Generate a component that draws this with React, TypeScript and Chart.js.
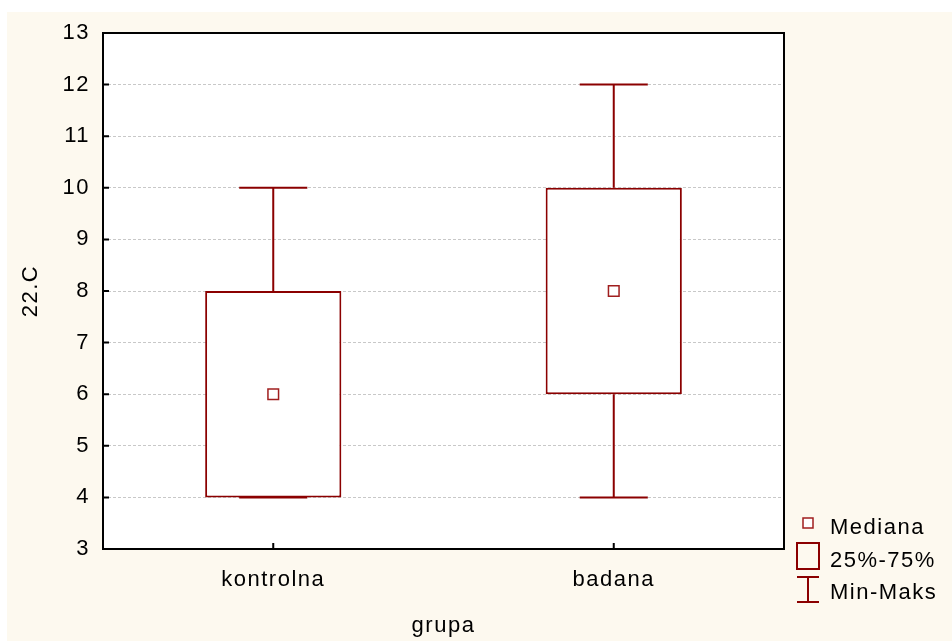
import React, { useEffect, useRef } from "react";
import { Chart, registerables } from "chart.js";

Chart.register(...registerables);

// ---- data ----
const categories = ["kontrolna", "badana"];
const minValues = [4, 4];
const q1Values = [4, 6];
const medianValues = [6, 8];
const q3Values = [8, 10];
const maxValues = [10, 12];
const yMin = 3;
const yMax = 13;
const yStep = 1;
const legendLabels = ["Mediana", "25%-75%", "Min-Maks"];
const xTitle = "grupa";
const yTitle = "22.C";

// ---- style ----
const FONT = "'Liberation Sans', Arial, sans-serif";
const FONT_SIZE = 22;
const SPACING = "1.5px";
const CREAM = "#FDF9EF";
const RED = "#8B0000";
const MED_RED = "#A01E1E";
const W = 945;
const H = 629;

const extrasPlugin = {
  id: "boxExtras",
  beforeDraw(chart: any) {
    const { ctx, chartArea: a } = chart;
    ctx.save();
    ctx.fillStyle = CREAM;
    ctx.fillRect(0, 0, chart.width, chart.height);
    ctx.fillStyle = "#ffffff";
    ctx.fillRect(a.left, a.top, a.right - a.left, a.bottom - a.top);
    ctx.restore();
    (ctx as any).letterSpacing = SPACING;
  },
  afterDatasetsDraw(chart: any) {
    const { ctx } = chart;
    const xs = chart.scales.x;
    const ys = chart.scales.y;
    const meta = chart.getDatasetMeta(0);
    ctx.save();
    ctx.strokeStyle = RED;
    ctx.lineWidth = 2;
    categories.forEach((_, i) => {
      const x = xs.getPixelForValue(i);
      const bw = meta.data[i] ? meta.data[i].width : 136;
      const half = bw / 4;
      const pMax = ys.getPixelForValue(maxValues[i]);
      const pQ3 = ys.getPixelForValue(q3Values[i]);
      const pQ1 = ys.getPixelForValue(q1Values[i]);
      const pMin = ys.getPixelForValue(minValues[i]);
      ctx.beginPath();
      ctx.moveTo(x, pQ3);
      ctx.lineTo(x, pMax);
      ctx.moveTo(x - half, pMax);
      ctx.lineTo(x + half, pMax);
      ctx.moveTo(x, pQ1);
      ctx.lineTo(x, pMin);
      ctx.moveTo(x - half, pMin);
      ctx.lineTo(x + half, pMin);
      ctx.stroke();
    });
    ctx.restore();
  },
  afterDraw(chart: any) {
    const { ctx, chartArea: a } = chart;
    const xs = chart.scales.x;
    const ys = chart.scales.y;
    ctx.save();
    // frame
    ctx.strokeStyle = "#000";
    ctx.lineWidth = 2;
    ctx.strokeRect(a.left, a.top, a.right - a.left, a.bottom - a.top);
    // inward tick marks
    ctx.beginPath();
    for (let v = yMin; v <= yMax; v += yStep) {
      const y = ys.getPixelForValue(v);
      ctx.moveTo(a.left, y);
      ctx.lineTo(a.left + 6, y);
    }
    categories.forEach((_, i) => {
      const x = xs.getPixelForValue(i);
      ctx.moveTo(x, a.bottom);
      ctx.lineTo(x, a.bottom - 6);
    });
    ctx.stroke();

    // legend
    (ctx as any).letterSpacing = SPACING;
    const lx = a.right + 24; // icon center
    ctx.strokeStyle = MED_RED;
    ctx.lineWidth = 1.5;
    ctx.fillStyle = "#fff";
    ctx.fillRect(lx - 5, 506, 10, 10);
    ctx.strokeRect(lx - 5, 506, 10, 10);
    ctx.strokeStyle = RED;
    ctx.lineWidth = 2;
    ctx.strokeRect(lx - 11, 531, 22, 26);
    ctx.beginPath();
    ctx.moveTo(lx - 11, 565);
    ctx.lineTo(lx + 11, 565);
    ctx.moveTo(lx, 565);
    ctx.lineTo(lx, 590);
    ctx.moveTo(lx - 11, 590);
    ctx.lineTo(lx + 11, 590);
    ctx.stroke();
    ctx.fillStyle = "#000";
    ctx.font = `${FONT_SIZE}px ${FONT}`;
    ctx.textAlign = "left";
    ctx.textBaseline = "alphabetic";
    const tx = a.right + 46;
    ctx.fillText(legendLabels[0], tx, 521.5);
    ctx.fillText(legendLabels[1], tx, 555);
    ctx.fillText(legendLabels[2], tx, 587);
    ctx.restore();
  },
};

export default function App() {
  const ref = useRef<HTMLCanvasElement | null>(null);

  useEffect(() => {
    if (!ref.current) return;
    const font = { family: FONT, size: FONT_SIZE };
    const chart = new Chart(ref.current, {
      type: "bar",
      data: {
        labels: categories,
        datasets: [
          {
            type: "bar",
            data: categories.map((_, i) => [q1Values[i], q3Values[i]]) as any,
            backgroundColor: "#ffffff",
            borderColor: RED,
            borderWidth: 2,
            borderSkipped: false,
            barPercentage: 0.4,
            categoryPercentage: 1,
            order: 2,
          } as any,
          {
            type: "line",
            data: medianValues,
            showLine: false,
            pointStyle: "rect",
            pointRadius: 7.5,
            pointBorderWidth: 1.5,
            pointBorderColor: MED_RED,
            pointBackgroundColor: "#ffffff",
            order: 1,
          } as any,
        ],
      },
      options: {
        responsive: false,
        animation: false,
        devicePixelRatio: 1,
        layout: { padding: { top: 21, right: 168, left: 0, bottom: 0 } },
        plugins: { legend: { display: false }, tooltip: { enabled: false } },
        scales: {
          x: {
            offset: true,
            grid: { display: false, drawTicks: false },
            border: { display: false },
            ticks: { color: "#000", font, padding: 18 },
            title: {
              display: true,
              text: xTitle,
              color: "#000",
              font,
              padding: { top: 0, bottom: 2 },
            },
            afterFit(scale: any) {
              scale.height = 92;
              scale.paddingLeft = 0;
              scale.paddingRight = 0;
            },
          },
          y: {
            min: yMin,
            max: yMax,
            ticks: { stepSize: yStep, color: "#000", font, padding: 13 },
            grid: {
              drawTicks: false,
              lineWidth: 1,
              color: (c: any) =>
                c.tick && (c.tick.value === yMin || c.tick.value === yMax)
                  ? "rgba(0,0,0,0)"
                  : "#c8c8c8",
            },
            border: { display: false, dash: [3, 2] },
            title: {
              display: true,
              text: yTitle,
              color: "#000",
              font,
              padding: { top: 11, bottom: 0 },
            },
            afterFit(scale: any) {
              scale.width = 96;
              scale.paddingTop = 0;
              scale.paddingBottom = 0;
            },
          },
        },
      } as any,
      plugins: [extrasPlugin],
    });
    return () => chart.destroy();
  }, []);

  return (
    <div style={{ position: "absolute", left: 7, top: 12, width: W, height: H }}>
      <canvas ref={ref} width={W} height={H} style={{ display: "block", width: W, height: H }} />
    </div>
  );
}
